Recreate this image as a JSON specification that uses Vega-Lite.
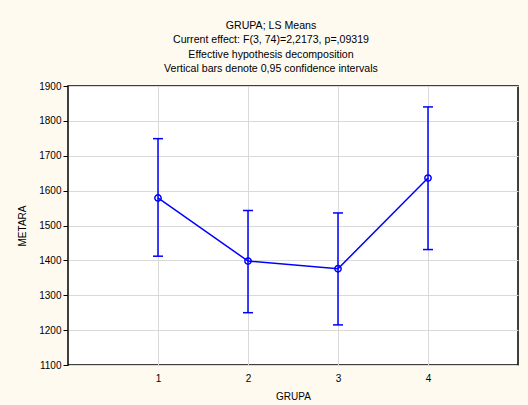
{
  "$schema": "https://vega.github.io/schema/vega-lite/v6.json",
  "width": 450,
  "height": 279,
  "autosize": {"type": "none"},
  "padding": {"left": 68, "top": 86, "right": 10, "bottom": 40},
  "background": "#FFFAF0",
  "config": {
    "font": "Liberation Sans",
    "view": {"fill": "white", "stroke": "black", "strokeWidth": 1.5},
    "axis": {
      "labelFontSize": 10,
      "labelColor": "black",
      "titleFontSize": 10,
      "titleFontWeight": "normal",
      "titleColor": "black",
      "gridColor": "#d9d9d9",
      "gridOpacity": 1,
      "domain": false
    },
    "axisX": {"ticks": false, "labelPadding": 8, "titlePadding": 8},
    "axisY": {"tickSize": 5, "tickColor": "black", "labelPadding": 2, "titlePadding": 11}
  },
  "title": {
    "text": [
      "GRUPA; LS Means",
      "Current effect: F(3, 74)=2,2173, p=,09319",
      "Effective hypothesis decomposition",
      "Vertical bars denote 0,95 confidence intervals"
    ],
    "fontSize": 10.6,
    "fontWeight": "normal",
    "lineHeight": 14.5,
    "color": "black",
    "anchor": "middle",
    "dx": -22,
    "offset": 6
  },
  "data": {
    "values": [
      {"GRUPA": 1, "mean": 1579, "lo": 1412, "hi": 1749},
      {"GRUPA": 2, "mean": 1398, "lo": 1250, "hi": 1543},
      {"GRUPA": 3, "mean": 1376, "lo": 1215, "hi": 1536},
      {"GRUPA": 4, "mean": 1636, "lo": 1431, "hi": 1840}
    ]
  },
  "encoding": {
    "x": {
      "field": "GRUPA",
      "type": "quantitative",
      "title": "GRUPA",
      "scale": {"domain": [0, 5], "nice": false},
      "axis": {"values": [1, 2, 3, 4], "format": "d"}
    }
  },
  "layer": [
    {
      "mark": {"type": "rule", "color": "#0000FF", "strokeWidth": 1.5},
      "encoding": {
        "y": {"field": "lo", "type": "quantitative", "title": "METARA",
              "scale": {"domain": [1100, 1900], "nice": false},
              "axis": {"values": [1100, 1200, 1300, 1400, 1500, 1600, 1700, 1800, 1900], "format": "d"}},
        "y2": {"field": "hi"}
      }
    },
    {
      "mark": {"type": "tick", "orient": "horizontal", "size": 10, "thickness": 1.5, "color": "#0000FF", "opacity": 1},
      "encoding": {"y": {"field": "lo", "type": "quantitative", "title": "METARA",
              "axis": {"values": [1100, 1200, 1300, 1400, 1500, 1600, 1700, 1800, 1900], "format": "d"}}}
    },
    {
      "mark": {"type": "tick", "orient": "horizontal", "size": 10, "thickness": 1.5, "color": "#0000FF", "opacity": 1},
      "encoding": {"y": {"field": "hi", "type": "quantitative", "title": "METARA",
              "axis": {"values": [1100, 1200, 1300, 1400, 1500, 1600, 1700, 1800, 1900], "format": "d"}}}
    },
    {
      "mark": {"type": "line", "color": "#0000FF", "strokeWidth": 1.5},
      "encoding": {"y": {"field": "mean", "type": "quantitative", "title": "METARA",
              "axis": {"values": [1100, 1200, 1300, 1400, 1500, 1600, 1700, 1800, 1900], "format": "d"}}}
    },
    {
      "mark": {"type": "point", "shape": "circle", "filled": false, "size": 40, "strokeWidth": 1.5, "color": "#0000FF", "opacity": 1},
      "encoding": {"y": {"field": "mean", "type": "quantitative", "title": "METARA",
              "axis": {"values": [1100, 1200, 1300, 1400, 1500, 1600, 1700, 1800, 1900], "format": "d"}}}
    }
  ]
}
